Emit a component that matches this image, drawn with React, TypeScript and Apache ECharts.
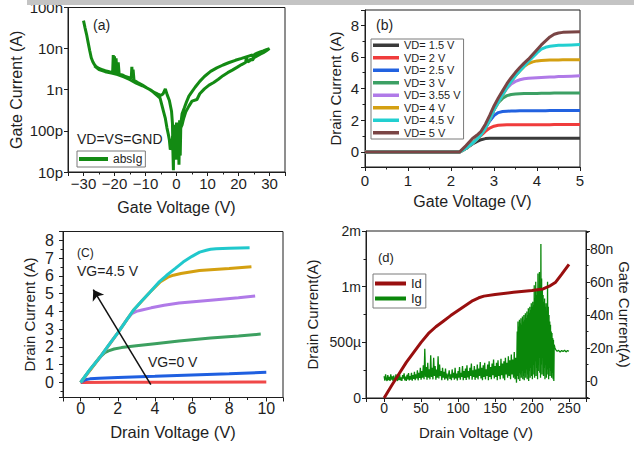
import React, { useEffect, useRef } from "react";
import * as echarts from "echarts";

const FF = '"Liberation Sans", Arial, Helvetica, sans-serif';
const INK = "#1e1e1e";

// ---------- (a) gate leakage sweep: [Vg (V), |Ig| (A)] ----------
const aForward = [
  [-30, 4.8e-8], [-29.5, 3.2e-8], [-29, 2.2e-8], [-28.5, 1.4e-8], [-28, 9e-9], [-27.5, 6e-9], [-27, 4.8e-9],
  [-26.5, 4.1e-9], [-26, 3.7e-9], [-25, 3.3e-9], [-24, 3.1e-9], [-23, 2.9e-9], [-22, 2.8e-9], [-21, 2.65e-9],
  [-20.6, 2.6e-9], [-20.4, 7e-9], [-20.2, 2.7e-9], [-20, 6.5e-9], [-19.8, 2.6e-9], [-19.5, 5.8e-9], [-19.2, 2.5e-9],
  [-18.8, 4.6e-9], [-18.5, 2.4e-9], [-17.5, 2.3e-9], [-16.5, 2.1e-9], [-15.5, 2e-9], [-14.6, 1.9e-9], [-14.4, 3.6e-9],
  [-14.2, 1.9e-9], [-14.0, 3.1e-9], [-13.7, 1.7e-9], [-12.5, 1.5e-9], [-11, 1.3e-9], [-9.5, 1.1e-9], [-8, 9.5e-10],
  [-7, 8.5e-10], [-6, 7.8e-10], [-5, 7.3e-10], [-4.3, 8e-10], [-3.6, 1.05e-9], [-3, 7.5e-10], [-2.3, 5.5e-10],
  [-1.6, 3e-10], [-1.3, 1.5e-10], [-1.15, 3e-11], [-1.0, 1.1e-11], [-0.9, 1e-10], [-0.7, 2.5e-11], [-0.5, 1.4e-10],
  [-0.3, 3e-11], [0, 1.6e-10], [0.3, 4e-11], [0.6, 2e-11], [0.9, 1.5e-10], [1.1, 6e-11], [1.4, 1.2e-10],
  [1.8, 1.4e-10], [2.3, 2e-10], [3, 2.9e-10], [4, 4e-10], [5, 5.3e-10], [6.6, 5.8e-10], [7.5, 8e-10], [9, 1.05e-9],
  [10.5, 1.3e-9], [12, 1.5e-9], [13.5, 1.8e-9], [15, 2.2e-9], [16.5, 2.6e-9], [18, 3e-9], [19.5, 3.5e-9],
  [21, 4.1e-9], [22.3, 4.6e-9], [22.6, 6.5e-9], [22.9, 4.8e-9], [23.5, 5e-9], [24, 5.6e-9], [24.5, 5.2e-9],
  [25, 6e-9], [26, 6.6e-9], [27, 7.3e-9], [28, 8e-9], [29, 8.9e-9], [30, 1e-8],
];
const aBackward = [
  [30, 1e-8], [29, 9.4e-9], [28, 8.8e-9], [27, 8.3e-9], [26, 7.8e-9], [25.2, 7.3e-9], [24.8, 5.8e-9], [24.5, 7e-9],
  [23, 6.5e-9], [21, 5.8e-9], [19, 5.2e-9], [17, 4.6e-9], [15, 4e-9], [13, 3.4e-9], [11, 2.8e-9], [9, 2.1e-9],
  [7.5, 1.6e-9], [6, 1.15e-9], [5, 9e-10], [4, 7e-10], [3.2, 5e-10], [2.5, 3.6e-10], [1.8, 2.6e-10], [1.4, 1.5e-10],
  [1.2, 2.5e-11], [1.0, 1.8e-10], [0.8, 1.5e-11], [0.5, 1.2e-10], [0.2, 3e-11], [-0.1, 8e-11], [-0.4, 2e-11],
  [-0.7, 6e-11], [-1.1, 1e-10], [-1.6, 4e-11], [-2.0, 3.5e-11], [-2.3, 6e-11], [-2.6, 8e-11], [-3.1, 1.2e-10],
  [-3.6, 2e-10], [-4.2, 3e-10], [-4.8, 4.5e-10], [-5.3, 6.3e-10], [-6.3, 7.3e-10], [-7.5, 8.8e-10], [-9, 1.05e-9],
  [-11, 1.25e-9], [-13, 1.45e-9], [-15, 1.75e-9], [-17, 2.05e-9], [-19, 2.35e-9], [-21, 2.55e-9], [-23, 2.75e-9],
  [-25, 3.1e-9], [-26.5, 3.8e-9],
];
const aLogTickText = ["10p", "100p", "1n", "10n", "100n"]; // 1e-11 … 1e-7

// ---------- (b) transfer curves, Id (A) vs Vg (V) ----------
const bVg = [0, 1, 2, 2.2, 2.35, 2.5, 2.6, 2.7, 2.8, 2.9, 3.0, 3.1, 3.2, 3.3, 3.4, 3.5, 3.6, 3.7, 3.8, 3.9, 4.0, 4.1, 4.2, 4.3, 4.4, 4.5, 4.6, 4.8, 5.0];
const bVd15 = [0, 0, 0, 0, 0.22, 0.5, 0.65, 0.77, 0.84, 0.86, 0.87, 0.87, 0.87, 0.87, 0.87, 0.87, 0.87, 0.87, 0.87, 0.87, 0.87, 0.87, 0.87, 0.87, 0.87, 0.87, 0.87, 0.87, 0.87];
const bVd2 = [0, 0, 0, 0, 0.22, 0.55, 0.8, 1.05, 1.3, 1.5, 1.62, 1.68, 1.7, 1.71, 1.71, 1.72, 1.72, 1.72, 1.72, 1.72, 1.72, 1.72, 1.72, 1.72, 1.73, 1.73, 1.73, 1.73, 1.73];
const bVd25 = [0, 0, 0, 0, 0.22, 0.55, 0.8, 1.1, 1.5, 1.95, 2.3, 2.48, 2.55, 2.57, 2.58, 2.58, 2.59, 2.59, 2.59, 2.6, 2.6, 2.6, 2.6, 2.61, 2.61, 2.61, 2.61, 2.62, 2.62];
const bVd3 = [0, 0, 0, 0, 0.22, 0.55, 0.8, 1.1, 1.5, 2.05, 2.65, 3.1, 3.38, 3.55, 3.62, 3.65, 3.67, 3.68, 3.68, 3.69, 3.69, 3.7, 3.7, 3.7, 3.71, 3.71, 3.71, 3.72, 3.72];
const bVd355 = [0, 0, 0, 0, 0.22, 0.55, 0.8, 1.1, 1.5, 2.05, 2.65, 3.15, 3.6, 4.0, 4.28, 4.45, 4.55, 4.61, 4.64, 4.66, 4.68, 4.7, 4.71, 4.72, 4.73, 4.75, 4.76, 4.78, 4.8];
const bVd4 = [0, 0, 0, 0, 0.22, 0.55, 0.8, 1.1, 1.5, 2.05, 2.65, 3.15, 3.6, 4.05, 4.45, 4.8, 5.1, 5.38, 5.57, 5.68, 5.74, 5.77, 5.78, 5.79, 5.8, 5.8, 5.81, 5.82, 5.82];
const bVd45 = [0, 0, 0, 0, 0.22, 0.55, 0.8, 1.1, 1.5, 2.05, 2.65, 3.15, 3.6, 4.05, 4.45, 4.8, 5.1, 5.4, 5.7, 5.98, 6.25, 6.48, 6.6, 6.66, 6.7, 6.72, 6.73, 6.75, 6.77];
const bVd5 = [0, 0, 0, 0, 0.4, 0.85, 1.05, 1.3, 1.75, 2.3, 2.9, 3.4, 3.85, 4.3, 4.68, 5.02, 5.32, 5.6, 5.85, 6.15, 6.45, 6.75, 7.0, 7.25, 7.42, 7.5, 7.54, 7.56, 7.58];
const bNames = ["VD= 1.5 V", "VD= 2 V", "VD= 2.5 V", "VD= 3 V", "VD= 3.55 V", "VD= 4 V", "VD= 4.5 V", "VD= 5 V"];

// ---------- (c) output curves, [Vd (V), Id (A)] ----------
const cVgA = [[0, 0], [2, 0.01], [5, 0.015], [10, 0.02]];
const cVgB = [[0, 0], [0.25, 0.15], [0.5, 0.2], [1, 0.24], [2, 0.28], [4, 0.34], [6, 0.42], [8, 0.49], [10, 0.57]];
const cVgC = [[0, 0], [0.5, 0.72], [1, 1.38], [1.3, 1.68], [1.5, 1.78], [1.8, 1.88], [2.2, 1.96], [3, 2.06], [4, 2.18], [5.3, 2.33], [7, 2.5], [8.5, 2.62], [9.7, 2.72]];
const cVgD = [[0, 0], [1.04, 1.41], [2.02, 2.82], [2.5, 3.55], [2.75, 3.87], [3.0, 4.0], [3.3, 4.08], [3.8, 4.2], [4.5, 4.35], [5.3, 4.47], [7, 4.63], [8.5, 4.77], [9.4, 4.87]];
const cVgE = [[0, 0], [1.04, 1.41], [2.02, 2.82], [2.83, 4.05], [3.73, 5.08], [4.3, 5.67], [4.7, 5.93], [5.0, 6.04], [5.4, 6.13], [6.4, 6.3], [8, 6.42], [9.2, 6.52]];
const cVgF = [[0, 0], [0.5, 0.72], [1.04, 1.41], [1.5, 2.08], [2.02, 2.82], [2.5, 3.55], [2.83, 4.05], [3.3, 4.6], [3.73, 5.08], [4.2, 5.63], [4.62, 6.02], [5.1, 6.42], [5.52, 6.78], [6.0, 7.1], [6.41, 7.34], [6.77, 7.44], [7.0, 7.5], [7.3, 7.53], [8, 7.56], [9.1, 7.59]];
const cArrowFrom = [3.78, -0.13];
const cArrowTo = [0.68, 5.22];

// ---------- (d) breakdown: Id (mA) and Ig (nA) vs Vd (V) ----------
const dId = [[0, 0], [10, 0.11], [20, 0.215], [30, 0.32], [40, 0.41], [50, 0.5], [60, 0.58], [70, 0.64], [80, 0.69], [90, 0.74], [100, 0.785], [110, 0.83], [120, 0.875], [128, 0.9], [135, 0.915], [150, 0.93], [175, 0.95], [200, 0.965], [215, 0.98], [225, 1.01], [232, 1.04], [240, 1.11], [250, 1.2]];
const dIg = [
  [0, 3], [1, 0.2], [2, 4], [3, 1], [4, 0], [5, 3.5], [6, 0.5], [7, 2.5], [8, 0], [9, 4], [10, 0.8], [11, 2.8], [12, 0], [13, 3.2], [14, 1], [15, 0.2], [16, 4], [17, 1.2], [18, 0], [19, 2.6], [20, 0.6],
  [21, 3.8], [22, 0.4], [23, 2.2], [24, 0], [25, 3.6], [26, 1.4], [27, 4.6], [28, 0.3], [29, 2.6], [30, 0], [31, 3.8], [32, 1], [33, 4.8], [34, 0.4], [35, 3], [36, 0.8], [37, 5], [38, 0.2], [39, 3.6], [40, 1.2],
  [41, 5.5], [42, 0.5], [43, 4], [44, 1.5], [45, 6.5], [46, 0.4], [47, 5], [48, 1.8], [49, 8], [50, 0.8], [51, 6], [52, 2], [53, 9.5], [54, 1], [55, 19.5], [56, 2.5], [57, 8.5], [58, 0.8], [59, 11], [60, 2],
  [61, 7], [62, 1], [63, 15.5], [64, 2.5], [65, 8], [66, 1], [67, 14], [68, 3], [69, 9], [70, 0.8], [71, 7], [72, 2], [73, 15], [74, 1.5], [75, 10], [76, 3], [77, 6], [78, 0.5], [79, 8], [80, 2],
  [81, 5.5], [82, 0.8], [83, 7.5], [84, 1.5], [85, 4.5], [86, 0.3], [88, 6.5], [89, 1.2], [90, 4], [91, 0.5], [92, 7], [93, 2], [94, 5], [95, 0.8], [96, 8], [97, 1.5], [98, 4.5], [99, 0.4], [100, 6],
  [101, 2], [102, 8.5], [103, 0.8], [104, 5], [105, 2.5], [106, 9], [107, 0.5], [108, 6], [109, 1.8], [110, 7.5], [111, 0.6], [112, 9.5], [113, 2.2], [114, 6], [115, 1], [116, 8], [117, 3], [118, 10.5],
  [119, 0.8], [120, 6.5], [121, 2.5], [122, 9], [123, 0.7], [124, 7], [125, 2], [126, 10], [127, 1], [128, 7.5], [129, 3], [130, 11.5], [131, 1.5], [132, 8], [133, 0.5], [134, 9.5], [135, 2.5], [136, 11],
  [137, 1], [138, 7], [139, 3], [140, 10], [141, 0.5], [142, 12], [143, 2.5], [144, 8.5], [145, 1], [146, 10.5], [147, 3.5], [148, 13], [149, 1.5], [150, 9], [151, 2.5], [152, 11], [153, 0.5], [154, 12.5],
  [155, 3], [156, 9], [157, 1], [158, 13.5], [159, 3.5], [160, 10.5], [161, 1.5], [162, 12], [163, 0.5], [164, 14], [165, 4], [166, 11], [167, 2], [168, 15], [169, 3], [170, 12.5], [171, 1], [172, 16],
  [173, 4], [174, 13], [175, 2], [176, 17.5], [177, 1], [178, 14], [179, -1], [180, 30], [180.5, 3], [181, 36], [181.5, 1], [182, 33], [182.5, 5], [183, 37], [183.5, 0], [184, 35], [184.5, 4], [185, 38],
  [185.5, 2], [186, 34], [186.5, 6], [187, 39], [187.5, 1], [188, 36], [188.5, 3], [189, 40], [189.5, 0.5], [190, 37], [190.5, 5], [191, 41], [191.5, 2], [192, 38], [192.5, 7], [193, 42], [193.5, 1],
  [194, 40], [194.5, 4], [195, 44], [195.5, 0], [196, 41], [196.5, 6], [197, 45], [197.5, 2], [198, 43], [198.5, 8], [199, 47], [199.5, 3], [200, 45], [200.5, 1], [201, 48], [201.5, 10], [202, 46],
  [202.5, 4], [203, 58], [203.5, 2], [204, 50], [204.5, 12], [205, 60], [205.5, 3], [206, 52], [206.5, 8], [207, 55], [207.5, 1], [208, 65], [208.5, 6], [209, 54], [209.5, 14], [210, 66], [210.5, 5],
  [211, 58], [211.5, 2], [212, 83], [212.5, 10], [213, 62], [213.5, 4], [214, 56], [214.5, 15], [215, 52], [215.5, 3], [216, 48], [216.5, 8], [217, 50], [217.5, 1], [218, 45], [218.5, 10], [219, 47],
  [219.5, 2], [220, 42], [220.5, 7], [221, 60], [221.5, 4], [222, 45], [222.5, 1], [223, 40], [223.5, 8], [224, 36], [224.5, 3], [225, 34], [225.5, 6], [226, 30], [226.5, 2], [227, 29], [227.5, 5],
  [228, 26], [228.5, 1], [229, 25], [229.5, 0], [230, 22], [231, 20], [232, 19], [234, 18], [236, 18.5], [238, 17.5], [240, 18.5], [242, 17.8], [244, 18.6], [246, 17.6], [248, 18.4], [250, 18],
];
const dLeftTickText = ["0", "500µ", "1m", "2m"]; // 0, 0.5, 1, 1.5 mA
const dRightTickText = ["0", "20n", "40n", "60n", "80n"]; // 0 … 80 nA

const minus = (v: number) => (v < 0 ? "\u2212" + Math.abs(v) : String(v));

function axis(extra: any, labelSize: number, nameSize: number, labelExtra: any = {}) {
  return {
    type: "value",
    nameLocation: "middle",
    axisLine: { show: true, onZero: false, lineStyle: { color: INK, width: 1 } },
    axisTick: { show: true, inside: false, length: 4, lineStyle: { color: INK, width: 1 } },
    minorTick: { show: true, splitNumber: 2, length: 2.5, lineStyle: { color: INK, width: 1 } },
    splitLine: { show: false },
    minorSplitLine: { show: false },
    axisLabel: { color: INK, fontFamily: FF, fontSize: labelSize, ...labelExtra },
    nameTextStyle: { color: INK, fontFamily: FF, fontSize: nameSize },
    ...extra,
  };
}

const gridBox = { show: true, borderColor: INK, borderWidth: 1, backgroundColor: "transparent" };

const legendBase = {
  orient: "vertical",
  icon: "rect",
  itemGap: 0,
  borderColor: "#7a7a7a",
  borderWidth: 1,
  borderRadius: 0,
  selectedMode: false,
  itemStyle: { borderWidth: 0 },
};

function line(name: string, data: any[], color: string, xi: number, yi: number, width = 3, z = 2) {
  return {
    type: "line",
    name,
    data,
    xAxisIndex: xi,
    yAxisIndex: yi,
    symbol: "none",
    showSymbol: false,
    color,
    z,
    lineStyle: { color, width },
    emphasis: { disabled: true },
  };
}

const bColors = ["#3a3a3a", "#f03c3c", "#2262e0", "#3ca064", "#b07ae8", "#d4a012", "#22cfd0", "#7a4545"];
const bSeries = [bVd15, bVd2, bVd25, bVd3, bVd355, bVd4, bVd45, bVd5].map((arr, k) =>
  line(bNames[k], bVg.map((x, i) => [x, arr[i]]), bColors[k], 1, 1, 3, 2 + k)
);

const cSeries = [
  { ...line("VG a", cVgA, "#f04848", 2, 2), markLine: {
      silent: true,
      symbol: ["none", "arrow"],
      symbolSize: 10,
      label: { show: false },
      lineStyle: { color: "#111", width: 1.5, type: "solid" },
      data: [[{ coord: cArrowFrom }, { coord: cArrowTo }]],
    } },
  line("VG b", cVgB, "#1f5fe0", 2, 2),
  line("VG c", cVgC, "#3ca060", 2, 2),
  line("VG d", cVgD, "#b07ae8", 2, 2),
  line("VG e", cVgE, "#d4a010", 2, 2),
  line("VG f", cVgF, "#20c8cc", 2, 2),
];

const txt = (text: string, x: number, y: number, size: number) => ({
  type: "text",
  x,
  y,
  z: 50,
  style: { text, fontSize: size, fontFamily: FF, fill: INK, verticalAlign: "middle" },
});

const option: any = {
  animation: false,
  backgroundColor: "#ffffff",
  textStyle: { fontFamily: FF },
  grid: [
    { left: 68, top: 5, width: 217, height: 167, ...gridBox },
    { left: 365, top: 10, width: 215, height: 157, ...gridBox },
    { left: 63, top: 231.5, width: 220, height: 166, ...gridBox },
    { left: 366, top: 231, width: 220, height: 167, ...gridBox },
  ],
  xAxis: [
    axis({ gridIndex: 0, min: -35, max: 35, minInterval: 10, maxInterval: 10, name: "Gate Voltage (V)", nameGap: 27 }, 15, 16,
      { margin: 4, showMinLabel: false, showMaxLabel: false, formatter: minus }),
    axis({ gridIndex: 1, min: 0, max: 5, interval: 1, name: "Gate Voltage (V)", nameGap: 26 }, 15, 16, { margin: 6 }),
    axis({ gridIndex: 2, min: -0.95, max: 10.9, minInterval: 2, maxInterval: 2, name: "Drain Voltage (V)", nameGap: 26 }, 16, 16.5,
      { margin: 3, showMinLabel: false, showMaxLabel: false }),
    axis({ gridIndex: 3, min: -24.5, max: 273, minInterval: 50, maxInterval: 50, name: "Drain Voltage (V)", nameGap: 27 }, 14, 15,
      { margin: 3, showMinLabel: false, showMaxLabel: false }),
  ],
  yAxis: [
    axis({ gridIndex: 0, type: "log", logBase: 10, min: 1e-11, max: 1e-7, name: "Gate Current (A)", nameGap: 44, minorTick: { show: false } }, 15, 16,
      { margin: 5, formatter: (v: number) => aLogTickText[Math.round(Math.log10(v)) + 11] ?? "" }),
    axis({ gridIndex: 1, min: -0.95, max: 8.95, minInterval: 2, maxInterval: 2, name: "Drain Current (A)", nameGap: 22 }, 15, 15,
      { margin: 6, showMinLabel: false, showMaxLabel: false }),
    axis({ gridIndex: 2, min: -0.85, max: 8.5, minInterval: 1, maxInterval: 1, name: "Drain Current (A)", nameGap: 26 }, 16, 15,
      { margin: 9, showMinLabel: false, showMaxLabel: false }),
    axis({ gridIndex: 3, min: 0, max: 1.5, interval: 0.5, name: "Drain Current(A)", nameGap: 46 }, 14, 15,
      { margin: 5, formatter: (v: number) => dLeftTickText[Math.round(v / 0.5)] ?? "" }),
    axis({ gridIndex: 3, position: "right", min: -10.3, max: 90.8, minInterval: 20, maxInterval: 20, name: "Gate Current(A)", nameGap: 30, nameRotate: -90 }, 14, 15,
      { margin: 4, showMinLabel: false, showMaxLabel: false, formatter: (v: number) => dRightTickText[Math.round(v / 20)] ?? "" }),
  ],
  legend: [
    { ...legendBase, data: ["absIg"], left: 77, top: 151, padding: [1, 3, 1, 2], itemWidth: 29, itemHeight: 4,
      textStyle: { fontFamily: FF, fontSize: 12, color: INK, lineHeight: 14 } },
    { ...legendBase, data: bNames, left: 371, top: 39, padding: [0, 3, 0, 2], itemWidth: 26, itemHeight: 3.5,
      textStyle: { fontFamily: FF, fontSize: 11, color: INK, lineHeight: 12.5 } },
    { ...legendBase, data: ["Id", "Ig"], left: 373, top: 274, padding: [2, 4, 2, 2], itemWidth: 31, itemHeight: 4,
      textStyle: { fontFamily: FF, fontSize: 13, color: INK, lineHeight: 15 } },
  ],
  series: [
    line("absIg", [...aForward, ...aBackward], "#138a13", 0, 0, 3),
    ...bSeries,
    ...cSeries,
    line("Ig", dIg, "#0a870a", 3, 4, 1.3, 2),
    line("Id", dId, "#990f0f", 3, 3, 3, 5),
  ],
  graphic: [
    txt("(a)", 93, 25, 14),
    txt("VD=VS=GND", 77, 139, 14),
    txt("(b)", 376, 25, 14),
    txt("(C)", 77, 253, 12),
    txt("VG=4.5 V", 77, 271, 14),
    txt("VG=0 V", 148, 362, 14),
    txt("(d)", 378, 257, 13),
    { type: "rect", z: 100, shape: { x: 27, y: 0, width: 607, height: 5 }, style: { fill: "#c4c4c4" } },
  ],
};

export default function App() {
  const ref = useRef<HTMLDivElement>(null);
  useEffect(() => {
    document.body.style.margin = "0";
    const chart = echarts.init(ref.current as HTMLDivElement, null, { renderer: "svg" });
    chart.setOption(option);
    return () => chart.dispose();
  }, []);
  return <div ref={ref} style={{ width: 634, height: 449, background: "#fff" }} />;
}
